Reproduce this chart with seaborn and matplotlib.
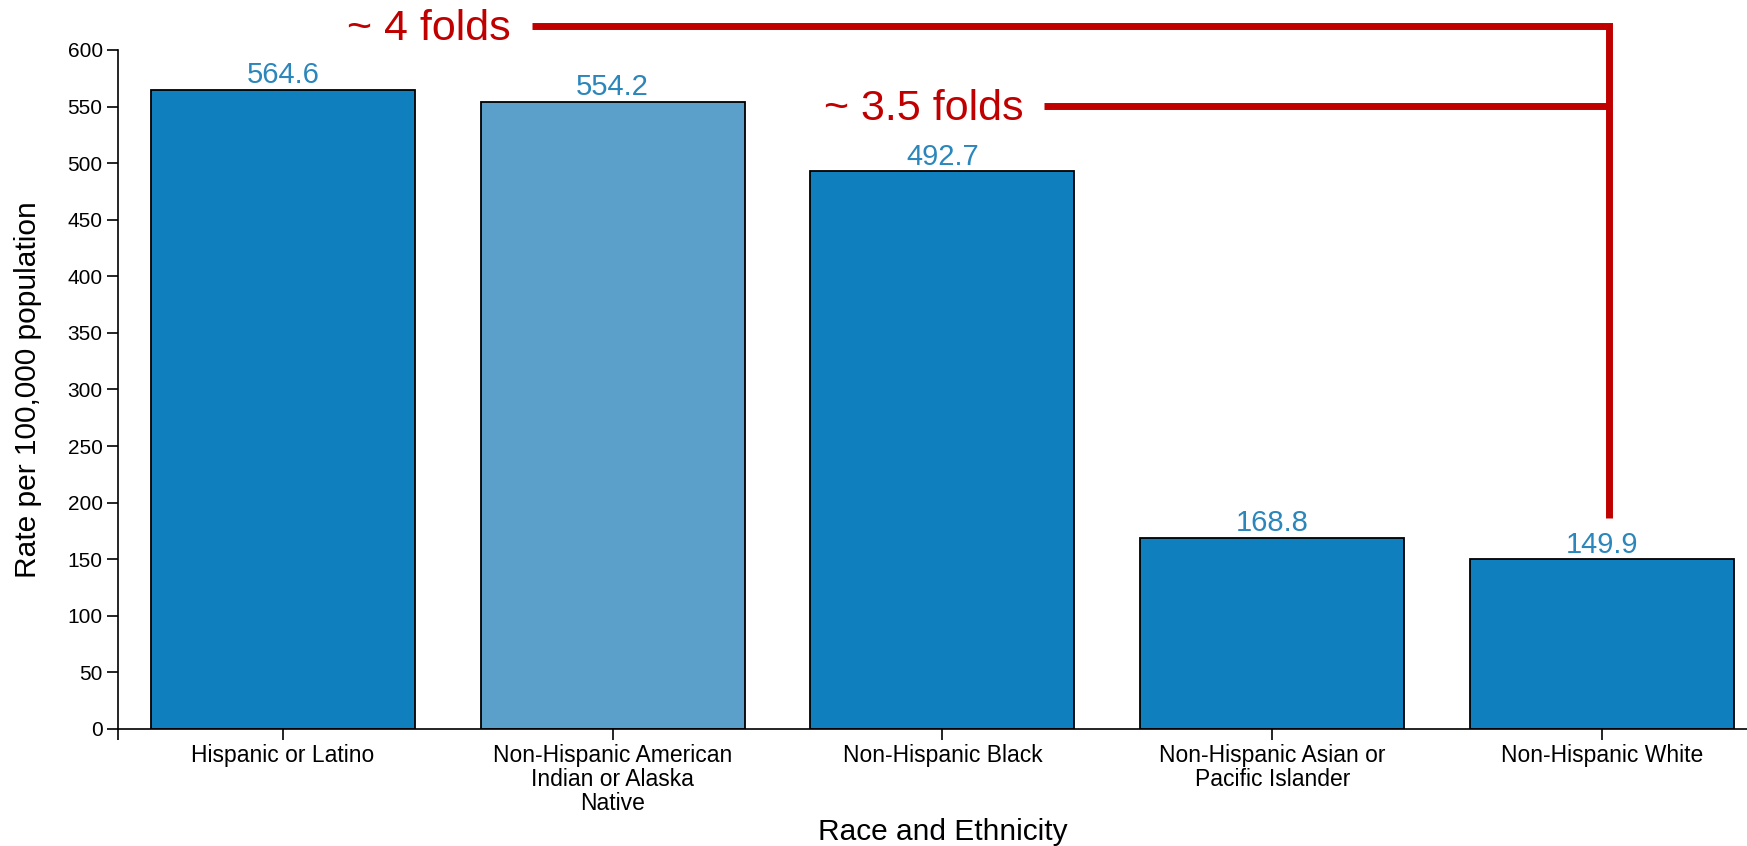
import matplotlib
matplotlib.use("Agg")
import matplotlib.pyplot as plt
import pandas as pd
import seaborn as sns

# Rates per 100,000 population by race and ethnicity
categories = [
    "Hispanic or Latino",
    "Non-Hispanic American\nIndian or Alaska\nNative",
    "Non-Hispanic Black",
    "Non-Hispanic Asian or\nPacific Islander",
    "Non-Hispanic White",
]
rates = [564.6, 554.2, 492.7, 168.8, 149.9]
bar_colors = ["#107fbd", "#5ba0cb", "#107fbd", "#107fbd", "#107fbd"]
y_ticks = list(range(0, 601, 50))

# Fold-change brackets pointing at the reference group
fold_labels = ["~ 4 folds", "~ 3.5 folds"]
fold_levels = [621.0, 550.5]
fold_starts = [0.755, 2.309]
fold_text_right = [0.69, 2.245]
bracket_x = 4.022
bracket_bottom = 186.5
text_drop = 12.5  # baseline sits a little below the bracket line

RED = "#c00000"
LABEL_BLUE = "#2a86bb"

sns.set_theme(style="ticks")
plt.rcParams["font.family"] = ["Liberation Sans", "DejaVu Sans"]

fig = plt.figure(figsize=(17.47, 8.46), dpi=100)
ax = fig.add_axes([0.0675, 0.1383, 0.9439, 0.8026])

df = pd.DataFrame({"group": categories, "rate": rates})
sns.barplot(
    data=df, x="group", y="rate", hue="group", palette=bar_colors,
    saturation=1, edgecolor="black", linewidth=1.3, width=0.8,
    legend=False, ax=ax,
)

for container in ax.containers:
    ax.bar_label(container, fmt="%.1f", padding=0.5, color=LABEL_BLUE, fontsize=21)

ax.set_xlim(-0.5, 4.5)
ax.set_ylim(0, 600)
ax.set_yticks(y_ticks)
ax.set_xticks([-0.5], minor=True)
sns.despine(ax=ax)
for side in ("left", "bottom"):
    ax.spines[side].set_linewidth(1.2)
    ax.spines[side].set_color("black")

ax.tick_params(axis="y", which="major", length=8, width=1.2, color="black",
               labelsize=15, labelcolor="black", pad=3)
ax.tick_params(axis="x", which="both", length=8, width=1.2, color="black",
               labelsize=16.5, labelcolor="black", pad=3)
for lab in ax.get_xticklabels():
    lab.set_linespacing(1.05)
    lab.set_verticalalignment("top")

ax.set_ylabel("Rate per 100,000 population", fontsize=21.5, color="black")
ax.set_xlabel("Race and Ethnicity", fontsize=21.5, color="black")
ax.yaxis.set_label_coords(-0.046, 0.5)
ax.xaxis.set_label_coords(0.5, -0.131)

# Bracket: top line runs across and drops down to the reference bar
ax.plot([fold_starts[0], bracket_x, bracket_x],
        [fold_levels[0], fold_levels[0], bracket_bottom],
        color=RED, lw=5, clip_on=False,
        solid_capstyle="butt", solid_joinstyle="miter")
ax.plot([fold_starts[1], bracket_x], [fold_levels[1], fold_levels[1]],
        color=RED, lw=5, clip_on=False, solid_capstyle="butt")

for label, level, xr in zip(fold_labels, fold_levels, fold_text_right):
    ax.text(xr, level - text_drop, label, color=RED, fontsize=31, ha="right",
            va="baseline", clip_on=False)

fig.savefig("out.png", dpi=100)
